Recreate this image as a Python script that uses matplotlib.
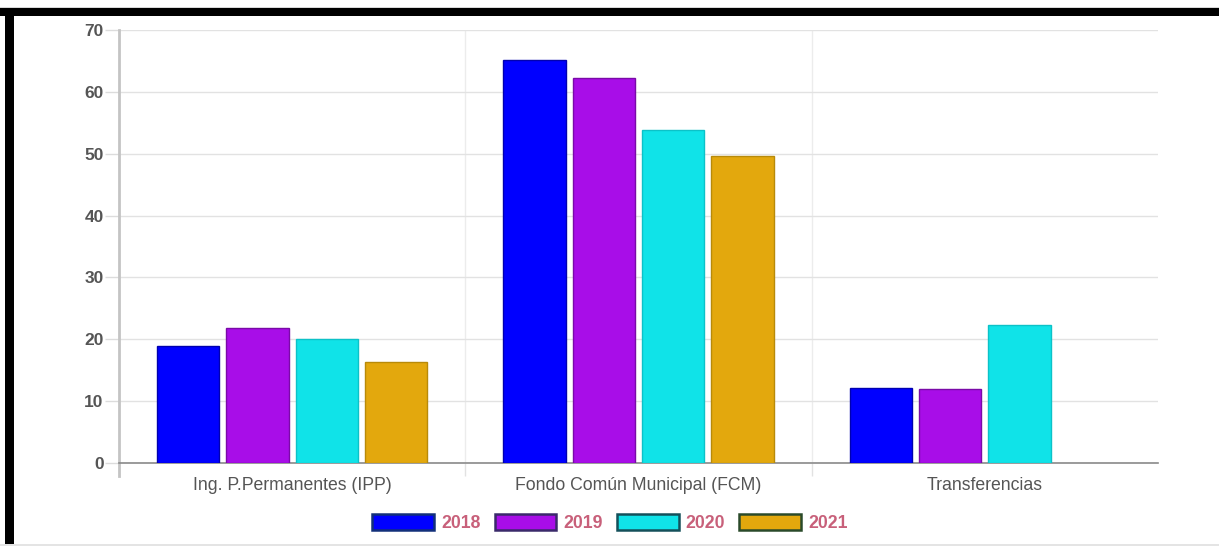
import numpy as np
import matplotlib
matplotlib.use("Agg")
import matplotlib.pyplot as plt
from matplotlib.patches import Rectangle, Patch

categories = ["Ing. P.Permanentes (IPP)", "Fondo Común Municipal (FCM)", "Transferencias"]
years = ["2018", "2019", "2020", "2021"]
values_2018 = [18.9, 65.1, 12.2]
values_2019 = [21.8, 62.3, 11.9]
values_2020 = [20.0, 53.9, 22.3]
values_2021 = [16.3, 49.7, np.nan]
series = [values_2018, values_2019, values_2020, values_2021]

fill_colors = ["#0000ff", "#a80de8", "#10e3e8", "#e3a80d"]
edge_colors = ["#0000b0", "#7a0aa8", "#0cc2c8", "#b88a0a"]
legend_edge = ["#12307a", "#3a2a6a", "#14505a", "#2a4a2a"]

plt.rcParams["font.family"] = ["Liberation Sans", "DejaVu Sans"]

W, H = 1219, 546
fig = plt.figure(figsize=(W / 100, H / 100), dpi=100)
fig.patch.set_facecolor("white")

def px(x0, y0, x1, y1):
    return [x0 / W, 1 - y1 / H, (x1 - x0) / W, (y1 - y0) / H]

ax = fig.add_axes(px(119, 30, 1158, 463))

n_cat = len(categories)
n_ser = len(series)
cat_pct, bar_pct = 0.8, 0.9
slot = cat_pct / n_ser
x = np.arange(n_cat)
for i, vals in enumerate(series):
    offs = (i - (n_ser - 1) / 2) * slot
    ax.bar(x + offs, vals, width=slot * bar_pct, color=fill_colors[i],
           edgecolor=edge_colors[i], linewidth=1.0, zorder=3)

ax.set_xlim(-0.5, n_cat - 0.5)
ax.set_ylim(0, 70)
ax.set_yticks(np.arange(0, 71, 10))
ax.set_yticklabels([str(v) for v in range(0, 71, 10)], fontsize=12.5,
                   fontweight="bold", color="#555555")

ax.set_xticks(x)
ax.set_xticklabels(categories, fontsize=12.7, color="#555555")
ax.tick_params(axis="x", which="major", length=0, pad=10)
ax.set_xticks(np.arange(0.5, n_cat - 0.5, 1.0), minor=True)
ax.tick_params(axis="x", which="minor", length=9.5, color="#e2e2e2", width=1.0)
ax.tick_params(axis="y", length=10, color="#dcdcdc", width=1.0, pad=1)

ax.grid(axis="y", color="#e2e2e2", linewidth=1.0, zorder=0)
for b in np.arange(0.5, n_cat - 0.5, 1.0):
    ax.axvline(b, color="#ececec", linewidth=1.0, zorder=0)

for side in ["top", "right"]:
    ax.spines[side].set_visible(False)
ax.spines["left"].set_color("#c4c4c4")
ax.spines["left"].set_linewidth(2.0)
ax.spines["left"].set_bounds(-2.1, 70)
ax.spines["bottom"].set_color("#8a8a8a")
ax.spines["bottom"].set_linewidth(1.2)

handles = [Patch(facecolor=fill_colors[i], edgecolor=legend_edge[i], linewidth=1.8)
           for i in range(n_ser)]
leg = fig.legend(handles, years, loc="center", bbox_to_anchor=(610 / W, 1 - 523 / H),
                 ncol=4, frameon=False, fontsize=12.7, handlelength=3.5,
                 handleheight=1.0, handletextpad=0.4, columnspacing=0.8,
                 prop={"weight": "bold", "size": 12.7})
for t in leg.get_texts():
    t.set_color("#c8607a")

# frame around the figure
fig.patches.append(Rectangle((0, 1 - 16 / H), 1, 8 / H, transform=fig.transFigure,
                             facecolor="black", edgecolor="none", zorder=10))
fig.patches.append(Rectangle((5 / W, 0), 9 / W, 1 - 8 / H, transform=fig.transFigure,
                             facecolor="black", edgecolor="none", zorder=10))
fig.patches.append(Rectangle((0, 1 - 8 / H), 1, 1 / H, transform=fig.transFigure,
                             facecolor="#d8d8d8", edgecolor="none", zorder=10))
fig.patches.append(Rectangle((0, 0), 1, 2 / H, transform=fig.transFigure,
                             facecolor="#e4e4e4", edgecolor="none", zorder=10))

fig.savefig("out.png", dpi=100)
